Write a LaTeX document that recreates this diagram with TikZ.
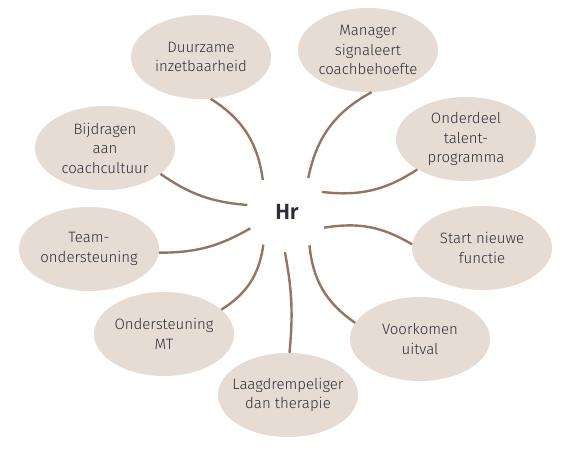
\documentclass[tikz,border=0pt]{standalone}
\usepackage{fontspec}
\setmainfont{Fira Sans}[UprightFont=* Light,BoldFont=* SemiBold]
\usepackage{tikz}
\usetikzlibrary{shapes.geometric}
\definecolor{blobfill}{HTML}{E6DCD3}
\definecolor{linkcol}{HTML}{957560}
\definecolor{ink}{HTML}{2E2E3A}
\begin{document}
\begin{tikzpicture}[x=1pt,y=-1pt,
  blob/.style={ellipse,fill=blobfill,draw=none,minimum width=140pt,minimum height=84pt,inner sep=0pt},
  lbl/.style={align=center,text=ink,font=\fontsize{15}{19.5}\selectfont,inner sep=0pt},
  link/.style={draw=linkcol,line width=2.4pt}]
\useasboundingbox (0,0) rectangle (568,461);
% hub
\node[circle,minimum size=80pt,inner sep=0pt,text=ink,font=\fontsize{22}{24}\selectfont\bfseries] (hr) at (287,212) {Hr};
% blobs
\foreach \nm/\x/\y/\txt in {duur/201/57/{Duurzame\\inzetbaarheid},
    man/368/50/{Manager\\signaleert\\coachbehoefte},
    ond/466/139/{Onderdeel\\talent-\\programma},
    start/482/248/{Start nieuwe\\functie},
    voor/420/339/{Voorkomen\\uitval},
    laag/288/395/{Laagdrempeliger\\dan therapie},
    mt/164/334/{Ondersteuning\\MT},
    team/89/249/{Team-\\ondersteuning},
    bij/105/148/{Bijdragen\\aan\\coachcultuur}}{
  \node[blob] (\nm) at (\x,\y) {};
  \node[lbl] (\nm-t) at (\nm) {\txt};
}
% links
\foreach \a/\nm/\b/\bd in {127/duur/-77/-25, 58/man/-85/25, 30/ond/-148/-20,
    -23/start/177/20, -56/voor/166/-25, -93/laag/88/8,
    -126/mt/23/25, -156/team/-3/15, 170/bij/-25/15}
  \draw[link] (hr.\a) to[bend left=\bd] (\nm.\b);
\end{tikzpicture}
\end{document}
